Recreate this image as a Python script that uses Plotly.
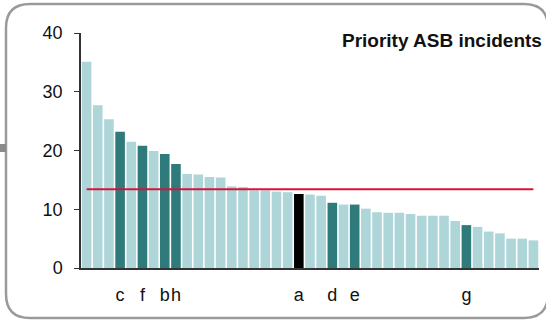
import plotly.graph_objects as go

# ---- data ----
values = [35.1, 27.7, 25.3, 23.2, 21.5, 20.8, 19.9, 19.4, 17.7, 16.0,
          15.9, 15.5, 15.4, 13.9, 13.8, 13.2, 13.2, 13.0, 12.9, 12.6,
          12.5, 12.3, 11.1, 10.8, 10.8, 10.1, 9.5, 9.4, 9.4, 9.2,
          8.9, 8.9, 8.9, 8.0, 7.3, 7.0, 6.2, 5.9, 5.0, 5.0, 4.7]
labels = ["", "", "", "c", "", "f", "", "b", "h", "",
          "", "", "", "", "", "", "", "", "", "a",
          "", "", "d", "", "e", "", "", "", "", "",
          "", "", "", "", "g", "", "", "", "", "", ""]
average = 13.4
title_text = "Priority ASB incidents"
y_ticks = [0, 10, 20, 30, 40]

LIGHT = "#aed6d9"
DARK = "#2f7b7b"
SELF = "#000000"
RED = "#d3143c"

xs = list(range(len(values)))
colors = [SELF if l == "a" else (DARK if l else LIGHT) for l in labels]
tickvals = [i for i, l in enumerate(labels) if l]
ticktext = [l for l in labels if l]

W, H = 546, 320
ML, MR, MT, MB = 81, 7, 33, 52
PW, PH = W - ML - MR, H - MT - MB


def px_x(p):
    return (p - ML) / PW


def px_y(p):
    return (H - MB - p) / PH


FONT = "Arial"

fig = go.Figure()
fig.add_trace(go.Bar(x=xs, y=values, marker=dict(color=colors, line=dict(width=0)),
                     hoverinfo="skip"))
fig.add_trace(go.Scatter(x=[xs[0], xs[-1]], y=[average, average], mode="lines",
                         line=dict(color=RED, width=2), hoverinfo="skip"))

# rounded border
x0, y0, x1, y1, r = 6, 4, 548, 318, 24
path = (f"M {px_x(x0+r)},{px_y(y0)} L {px_x(x1-r)},{px_y(y0)} "
        f"Q {px_x(x1)},{px_y(y0)} {px_x(x1)},{px_y(y0+r)} "
        f"L {px_x(x1)},{px_y(y1-r)} Q {px_x(x1)},{px_y(y1)} {px_x(x1-r)},{px_y(y1)} "
        f"L {px_x(x0+r)},{px_y(y1)} Q {px_x(x0)},{px_y(y1)} {px_x(x0)},{px_y(y1-r)} "
        f"L {px_x(x0)},{px_y(y0+r)} Q {px_x(x0)},{px_y(y0)} {px_x(x0+r)},{px_y(y0)} Z")
shapes = [
    dict(type="path", xref="paper", yref="paper", path=path,
         line=dict(color="#9a9a9a", width=2.5), layer="below"),
    dict(type="rect", xref="paper", yref="paper", x0=px_x(0), x1=px_x(6),
         y0=px_y(144), y1=px_y(152), fillcolor="#8a8a8a", line=dict(width=0)),
]

fig.update_layout(
    width=W, height=H,
    margin=dict(l=ML, r=MR, t=MT, b=MB, autoexpand=False),
    paper_bgcolor="white", plot_bgcolor="white",
    showlegend=False, bargap=0.14,
    font=dict(family=FONT, color="#111", size=18, style="normal"),
    shapes=shapes,
    annotations=[dict(text="<b>" + title_text + "</b>", xref="paper", yref="paper",
                      x=px_x(544), y=px_y(40), xanchor="right", yanchor="middle",
                      showarrow=False, font=dict(family=FONT, size=19, color="#111"))],
)
fig.update_xaxes(range=[-0.5, len(values) - 0.5], tickmode="array",
                 tickvals=tickvals, ticktext=ticktext, showline=True,
                 linecolor="#333", linewidth=1.5, ticks="outside", ticklen=10,
                 tickcolor="rgba(0,0,0,0)", showgrid=False, zeroline=False,
                 tickangle=0,
                 tickfont=dict(family=FONT, size=18, style="normal"))
fig.update_yaxes(range=[0, 40], tickmode="array", tickvals=y_ticks,
                 showline=True, linecolor="#333", linewidth=1.5, ticks="outside",
                 ticklen=5, tickcolor="#333", showgrid=False, zeroline=False,
                 ticklabelstandoff=8,
                 tickfont=dict(family=FONT, size=18, style="normal"))

fig.write_html("out.html", config={"displayModeBar": False},
               post_script="document.body.style.margin='0';document.body.style.overflow='hidden';")
